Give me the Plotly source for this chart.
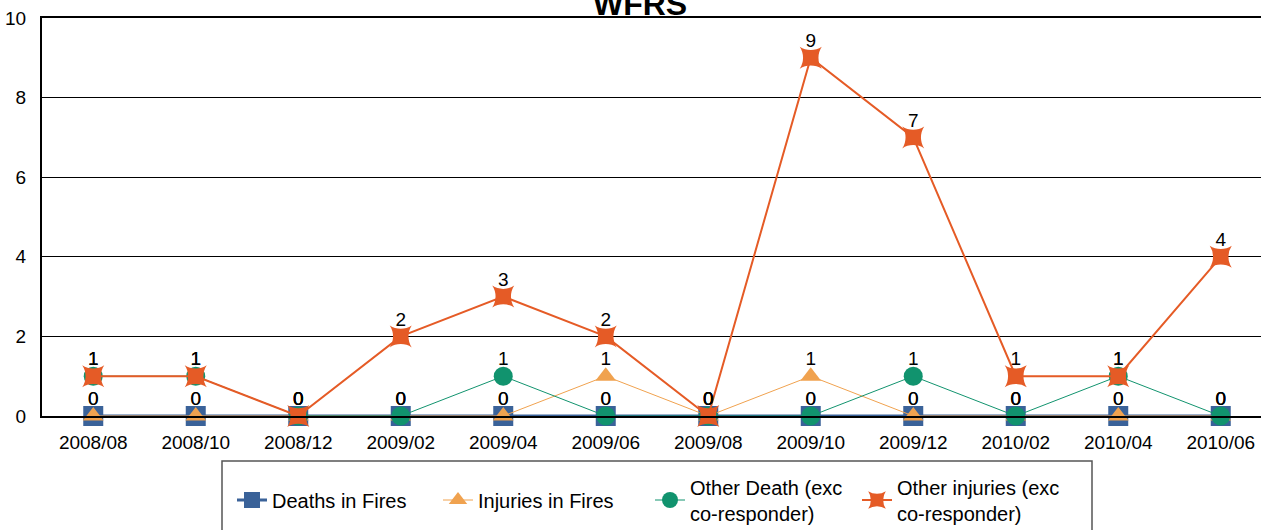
import plotly.graph_objects as go

months = ["2008/08", "2008/10", "2008/12", "2009/02", "2009/04", "2009/06",
          "2009/08", "2009/10", "2009/12", "2010/02", "2010/04", "2010/06"]
deaths_in_fires = [0, 0, 0, 0, 0, 0, 0, 0, 0, 0, 0, 0]
injuries_in_fires = [0, 0, 0, 0, 0, 1, 0, 1, 0, 0, 0, 0]
other_death = [1, 1, 0, 0, 1, 0, 0, 0, 1, 0, 1, 0]
other_injuries = [1, 1, 0, 2, 3, 2, 0, 9, 7, 1, 1, 4]

series = [
    ("Deaths in Fires", deaths_in_fires, "#3A6299", 3, "square", 20),
    ("Injuries in Fires", injuries_in_fires, "#F0A24F", 1, "triangle-up", 18),
    ("Other Death (exc<br>co-responder)", other_death, "#11936E", 1, "circle", 19),
    ("Other injuries (exc<br>co-responder)", other_injuries, "#E55B26", 2, "star-square", 20),
]
legend_starts = [237, 443, 655, 862]  # screen x of each legend symbol

FONT = "Liberation Sans, Arial"
L, T, PH = 42, 18, 398
W, H = 1261, 530
PW = W - L
ZERO = T + PH  # y of plot bottom

fig = go.Figure()
legend_layout = {}
for i, (name, vals, color, lw, sym, ms) in enumerate(series):
    lg = "legend" if i == 0 else f"legend{i + 1}"
    fig.add_trace(go.Scatter(
        x=months, y=vals, name=name, legend=lg,
        mode="lines+markers",
        line=dict(color=color, width=lw),
        marker=dict(symbol=sym, size=ms, color=color, line=dict(width=0)),
        cliponaxis=False,
    ))
    legend_layout[lg] = dict(
        orientation="h", x=(legend_starts[i] - 5 - L) / PW, xanchor="left",
        y=-(500 - ZERO) / PH, yanchor="middle",
        font=dict(family=FONT, size=20, color="black"), itemwidth=30,
        bgcolor="rgba(0,0,0,0)", borderwidth=0,
    )
for name, vals, color, lw, sym, ms in series:
    fig.add_trace(go.Scatter(
        x=months, y=vals, showlegend=False, hoverinfo="skip",
        mode="markers+text",
        marker=dict(size=8, color="rgba(0,0,0,0)"),
        text=[str(v) for v in vals], textposition="top center",
        textfont=dict(family=FONT, size=19, color="black"),
        cliponaxis=False,
    ))

fig.update_layout(
    width=W, height=H,
    margin=dict(l=L, r=0, t=T, b=H - T - PH, autoexpand=False),
    paper_bgcolor="white", plot_bgcolor="white",
    font=dict(family=FONT, size=19, color="black"),
    showlegend=True,
    xaxis=dict(type="category", range=[-0.5, -0.5 + PW / 102.5], showgrid=False,
               automargin=False,
               showline=True, linecolor="black", linewidth=2, mirror=True,
               ticks="", tickfont=dict(size=19), ticklabelstandoff=8),
    yaxis=dict(range=[0, 10], dtick=2, showgrid=True, gridcolor="black", gridwidth=1,
               automargin=False, ticklabeloverflow="allow",
               showline=True, linecolor="black", linewidth=2, zeroline=False,
               ticks="", tickfont=dict(size=19), ticklabelstandoff=10),
    **legend_layout,
)
fig.add_annotation(text="<b>WFRS</b>", xref="paper", yref="paper",
                   x=(640 - L) / PW, y=1 + (T - 4) / PH,
                   xanchor="center", yanchor="middle", showarrow=False,
                   font=dict(family=FONT, size=32, color="black"))
fig.add_shape(type="rect", xref="paper", yref="paper",
              x0=(222 - L) / PW, x1=(1092 - L) / PW,
              y0=-(545 - ZERO) / PH, y1=-(461 - ZERO) / PH,
              line=dict(color="#555555", width=1.5), fillcolor="rgba(0,0,0,0)")

fig.write_html("out.html", config={"displayModeBar": False},
               post_script="document.body.style.margin='0';document.body.style.overflow='hidden';")
